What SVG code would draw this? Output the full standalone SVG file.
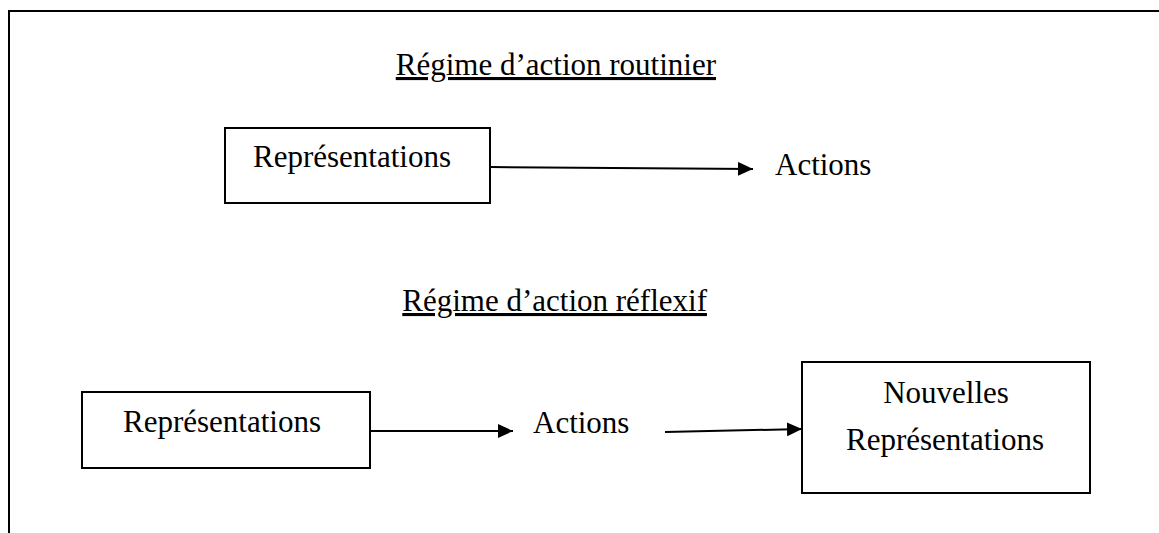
<svg xmlns="http://www.w3.org/2000/svg" width="1159" height="533" viewBox="0 0 1159 533">
<style>
.t{font-family:"Liberation Serif","Times New Roman",serif;font-size:31px;fill:#000}
.u{text-decoration:underline}
.box{fill:#fff;stroke:#000;stroke-width:2}
.c{stroke:#000;stroke-width:2;fill:none}
</style>
<defs>
<marker id="ah" markerUnits="userSpaceOnUse" markerWidth="16" markerHeight="14" refX="15" refY="7" orient="auto">
<path d="M0,0 L15,7 L0,14 Z" fill="#000"/>
</marker>
</defs>
<rect width="1159" height="533" fill="#fff"/>
<g id="frame"><path class="c" d="M9,533 V11 H1159"/></g>
<g id="title1"><text class="t u" x="716" y="75" text-anchor="end">Régime d’action routinier</text></g>
<g id="title2"><text class="t u" x="707" y="311" text-anchor="end">Régime d’action réflexif</text></g>
<g id="rep1"><rect class="box" x="225" y="128" width="265" height="75"/><text class="t" x="253" y="167">Représentations</text></g>
<g id="act1"><text class="t" x="775" y="175">Actions</text></g>
<g id="rep2"><rect class="box" x="82" y="392" width="288" height="76"/><text class="t" x="123" y="432">Représentations</text></g>
<g id="act2"><text class="t" x="533" y="433">Actions</text></g>
<g id="nrep"><rect class="box" x="802" y="362" width="288" height="131"/><text class="t" x="946" y="403" text-anchor="middle">Nouvelles</text><text class="t" x="945" y="450" text-anchor="middle">Représentations</text></g>
<g id="connectors">
<line class="c" x1="491" y1="167" x2="753" y2="169" marker-end="url(#ah)"/>
<line class="c" x1="371" y1="431" x2="513" y2="431" marker-end="url(#ah)"/>
<line class="c" x1="665" y1="432" x2="802" y2="429" marker-end="url(#ah)"/>
</g>
</svg>
